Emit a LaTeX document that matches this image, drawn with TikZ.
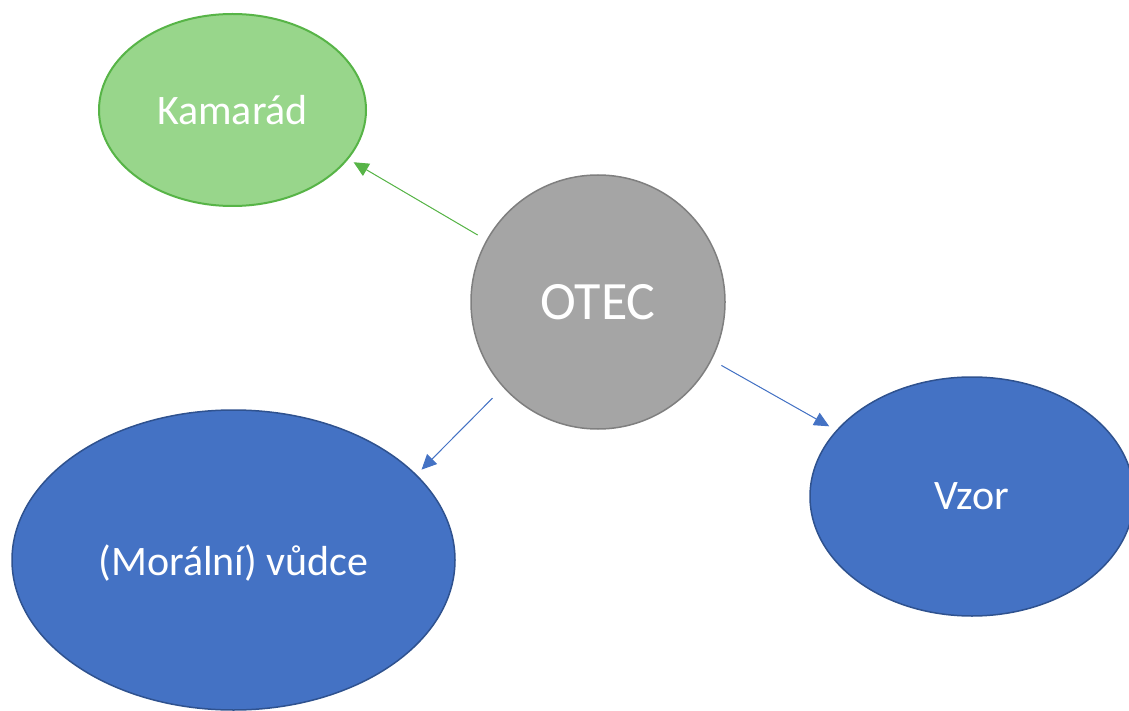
\documentclass[tikz,border=0pt]{standalone}
\usepackage{fontspec}
\setmainfont{Carlito}
\usetikzlibrary{shapes.geometric,arrows.meta}
\definecolor{gfill}{HTML}{98D68B}
\definecolor{gline}{HTML}{57B447}
\definecolor{bfill}{HTML}{4472C4}
\definecolor{bline}{HTML}{2F528F}
\definecolor{kfill}{HTML}{A5A5A5}
\definecolor{kline}{HTML}{7F7F7F}
\tikzset{
  bubble/.style={ellipse, inner sep=0pt, text=white, font=\fontsize{42}{50}\selectfont},
  conn/.style={line width=1pt, -{Triangle[length=15pt,width=14pt]}},
}
\begin{document}
\begin{tikzpicture}[x=1pt,y=-1pt]
\useasboundingbox (0,0) rectangle (1129,711);
\node[bubble, fill=gfill, draw=gline, line width=2pt, minimum width=267pt, minimum height=192pt] (kam) at (232.5,110) {Kamarád};
\node[bubble, fill=kfill, draw=kline, line width=1.5pt, minimum width=254pt, minimum height=254pt, font=\fontsize{54}{62}\selectfont] (otec) at (598,302) {OTEC};
\node[bubble, fill=bfill, draw=bline, line width=1.5pt, minimum width=443pt, minimum height=300pt, text depth=0pt] (mor) at (233.5,560) {(Morální) vůdce};
\node[bubble, fill=bfill, draw=bline, line width=1.5pt, minimum width=324pt, minimum height=239pt] (vzor) at (972,496.5) {Vzor};
\draw[conn, draw=gline, fill=gline, shorten <=10pt, shorten >=6pt] (otec.151) -- (kam.-23.5);
\draw[conn, draw=bfill, fill=bfill, shorten <=15pt, shorten >=7pt] (otec.222.4) -- (mor.25.8);
\draw[conn, draw=bfill, fill=bfill, shorten <=11pt, shorten >=8pt] (otec.-27.7) -- (vzor.154.9);
\end{tikzpicture}
\end{document}
